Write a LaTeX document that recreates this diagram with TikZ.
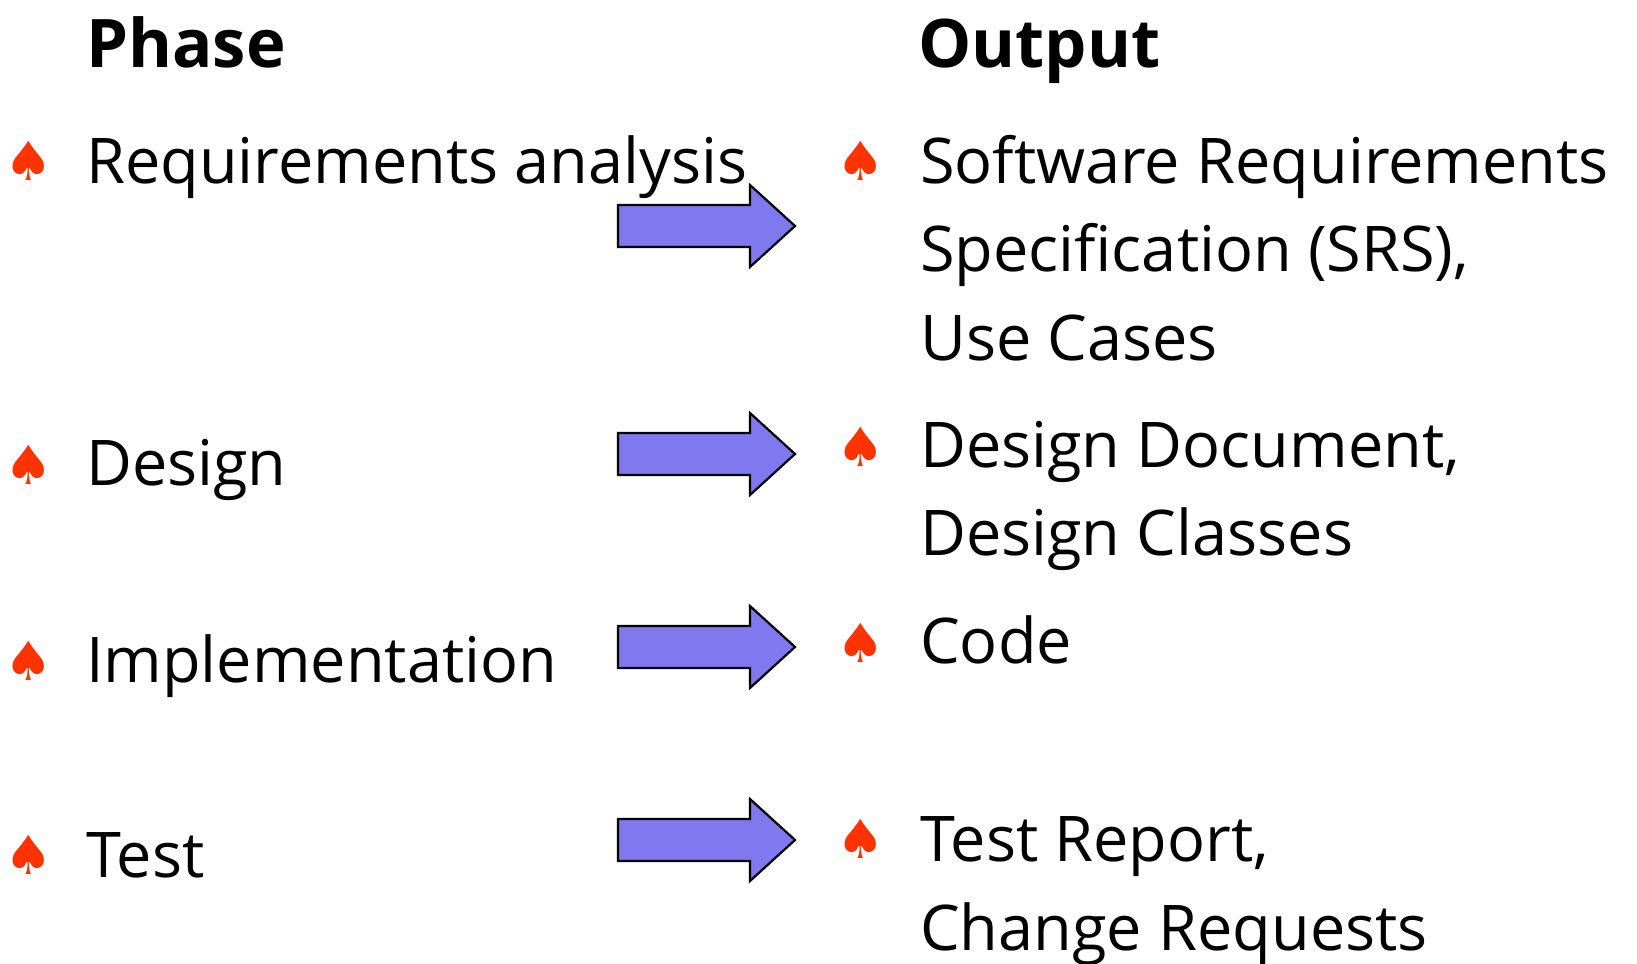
\documentclass[tikz,border=0pt]{standalone}
\usepackage{fontspec}
\setmainfont{Open Sans}
\newfontfamily\symfont{DejaVu Sans}
\definecolor{spadered}{RGB}{255,51,0}
\definecolor{arrowfill}{RGB}{128,120,238}
\tikzset{
  body/.style={anchor=base west, inner sep=0pt, font=\fontsize{63}{76}\selectfont},
  head/.style={anchor=base west, inner sep=0pt, font=\fontsize{67}{76}\selectfont\bfseries},
  spade/.style={inner sep=0pt, text=spadered, font=\symfont\fontsize{54}{54}\selectfont},
  fatarrow/.style={draw=black, line width=2.2pt, fill=arrowfill, line join=miter},
}
\newcommand{\fatarr}[1]{%
  \draw[fatarrow] (618,#1-21) -- (750,#1-21) -- (750,#1-41) -- (795,#1) -- (750,#1+41) -- (750,#1+21) -- (618,#1+21) -- cycle;}
\begin{document}
\begin{tikzpicture}[x=1pt,y=-1pt]
\useasboundingbox (0,0) rectangle (1637,963);
\node[head] (hphase) at (86,68) {Phase};
\node[head] (hout) at (918,68) {Output};
% left
\node[spade] (s1) at (29,161) {♠};
\node[body] (p1) at (86,183) {Requirements analysis};
\node[spade] (s2) at (29,465) {♠};
\node[body] (p2) at (86,485) {Design};
\node[spade] (s3) at (29,661) {♠};
\node[body] (p3) at (86,682) {Implementation};
\node[spade] (s4) at (29,855) {♠};
\node[body] (p4) at (86,877) {Test};
% right
\node[spade] (r1) at (861,161) {♠};
\node[body] (o1a) at (920,183) {Software Requirements};
\node[body] (o1b) at (920,271) {Specification (SRS),};
\node[body] (o1c) at (920,360) {Use Cases};
\node[spade] (r2) at (861,447) {♠};
\node[body] (o2a) at (920,467) {Design Document,};
\node[body] (o2b) at (920,555) {Design Classes};
\node[spade] (r3) at (861,643) {♠};
\node[body] (o3) at (920,663) {Code};
\node[spade] (r4) at (861,839) {♠};
\node[body] (o4a) at (920,861) {Test Report,};
\node[body] (o4b) at (920,950) {Change Requests};
% arrows
\fatarr{226}
\fatarr{454}
\fatarr{647}
\fatarr{840}
\end{tikzpicture}
\end{document}
